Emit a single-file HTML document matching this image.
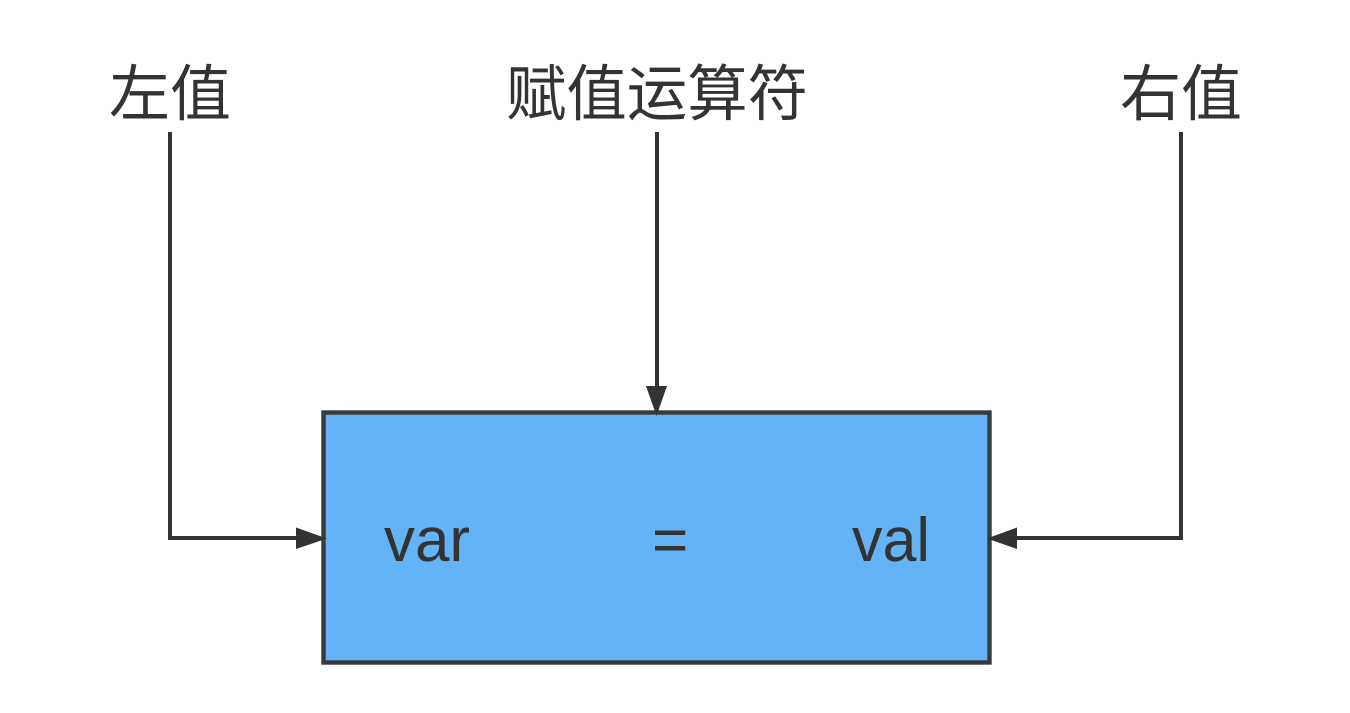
<!DOCTYPE html>
<html>
<head>
<meta charset="utf-8">
<style>
html,body{margin:0;padding:0;background:#fff;width:1350px;height:713px;overflow:hidden}
svg{display:block}
text{fill:#333}
.c{font-family:"Liberation Sans","Noto Sans CJK SC",sans-serif;font-size:61px}
.l{font-family:"Liberation Sans",sans-serif;font-size:62px}
</style>
</head>
<body>
<svg width="1350" height="713" viewBox="0 0 1350 713" xmlns="http://www.w3.org/2000/svg">
<rect x="323.500" y="412.500" width="666" height="250" fill="#63b3f6" stroke="#3a3a3a" stroke-width="4.400"/>
<g fill="none" stroke="#333" stroke-width="4">
<path d="M170 132V538H300"/>
<path d="M657 132V388"/>
<path d="M1181 132V538H1015"/>
</g>
<g fill="#333">
<path d="M296 527.500L327 538.500L296 549Z"/>
<path d="M646 386L656.500 416L667 386Z"/>
<path d="M1017 527.500L987 538.500L1017 549Z"/>
</g>
<text class="c" x="109" y="115">左值</text>
<text class="c" x="506" y="115" textLength="302" lengthAdjust="spacingAndGlyphs">赋值运算符</text>
<text class="c" x="1120" y="115">右值</text>
<text class="l" x="384" y="561" textLength="86" lengthAdjust="spacingAndGlyphs">var</text>
<text class="l" x="652" y="561">=</text>
<text class="l" x="852" y="561" textLength="78" lengthAdjust="spacingAndGlyphs">val</text>
</svg>
</body>
</html>
